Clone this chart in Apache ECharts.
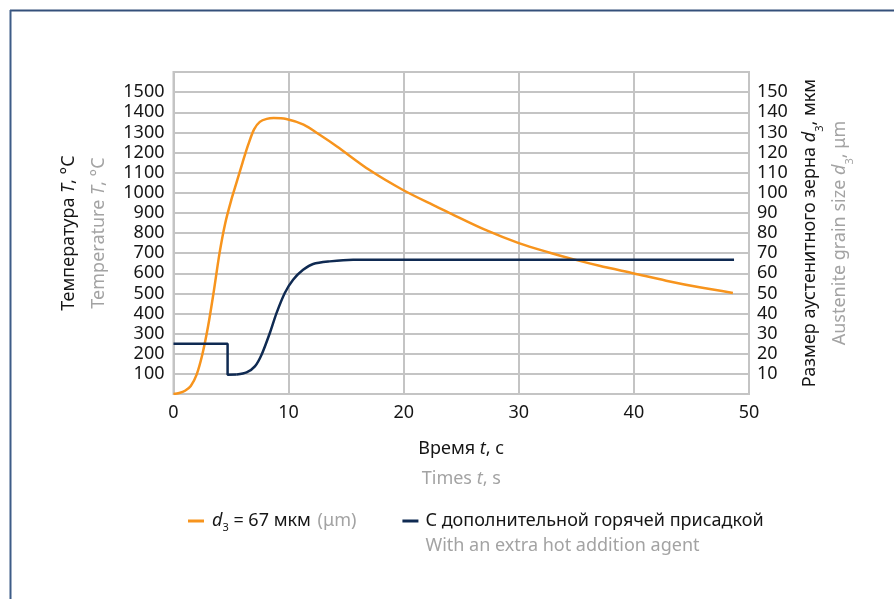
<!DOCTYPE html>
<html>
<head>
<meta charset="utf-8">
<script src="https://cdn.jsdelivr.net/npm/echarts@6/dist/echarts.min.js"></script>
<style>
html,body{margin:0;padding:0;background:#fff;}
#chart{width:894px;height:599px;}
</style>
</head>
<body>
<div id="chart"></div>
<script>
// Temperature curve (time s, temperature °C) — left axis
const tempTime  = [0, 0.5, 1.0, 1.5, 2.0, 2.5, 3.0, 3.5, 4.0, 4.5, 5.0, 5.5, 6.0, 6.5, 7.0, 7.5, 8.1, 8.7, 9.8, 11.3, 12.7, 14.2, 17.0, 19.9, 22.8, 24.0, 27.0, 30.0, 32.7, 34.7, 37.0, 40.0, 42.8, 45.7, 48.6];
const tempValue = [0, 5, 16, 40, 95, 195, 335, 510, 700, 850, 960, 1055, 1150, 1240, 1315, 1352, 1367, 1371, 1366, 1338, 1288, 1230, 1114, 1015, 932, 899, 818, 750, 702, 670, 637, 599, 563, 530, 502];
// Grain size (time s, grain size µm) — right axis: step part and growth part
const grainStepTime  = [0, 4.7, 4.7, 5.5];
const grainStepValue = [25, 25, 9.6, 9.7];
const grainTime  = [5.5, 6.35, 7.07, 7.65, 8.37, 8.95, 9.67, 10.39, 11.26, 12.13, 13.57, 15.6, 48.7];
const grainValue = [9.7, 10.7, 13.7, 19.5, 30.3, 40.2, 50.2, 56.8, 61.7, 64.6, 65.9, 66.7, 66.7];
// Axis ticks
const xTicks = [0, 10, 20, 30, 40, 50];
const leftTicks = [100, 200, 300, 400, 500, 600, 700, 800, 900, 1000, 1100, 1200, 1300, 1400, 1500];
const rightTicks = [10, 20, 30, 40, 50, 60, 70, 80, 90, 100, 110, 120, 130, 140, 150];

const FONT = 'Noto Sans';
const BLACK = '#161616';
const GRAY = '#a3a3a3';
const ORANGE = '#f7941d';
const NAVY = '#0f2a52';
const GRID = '#c4c4c4';

const zip = (a, b) => a.map((v, i) => [v, b[i]]);

const nameRich = {
  b:  {fontFamily: FONT, fontSize: 18, color: BLACK, lineHeight: 30},
  bi: {fontFamily: FONT, fontSize: 18, color: BLACK, lineHeight: 30, fontStyle: 'italic'},
  bs: {fontFamily: FONT, fontSize: 11, color: BLACK, lineHeight: 14, verticalAlign: 'bottom'},
  g:  {fontFamily: FONT, fontSize: 18, color: GRAY, lineHeight: 30},
  gi: {fontFamily: FONT, fontSize: 18, color: GRAY, lineHeight: 30, fontStyle: 'italic'},
  gs: {fontFamily: FONT, fontSize: 11, color: GRAY, lineHeight: 14, verticalAlign: 'bottom'}
};

const chart = echarts.init(document.getElementById('chart'), null, {renderer: 'canvas'});
const option = {
  backgroundColor: '#fff',
  animation: false,
  graphic: [
    {type: 'line', shape: {x1: 10, y1: 10.5, x2: 894, y2: 10.5}, style: {stroke: '#34507a', lineWidth: 2}},
    {type: 'line', shape: {x1: 10.5, y1: 10, x2: 10.5, y2: 599}, style: {stroke: '#3d5c87', lineWidth: 2}}
  ],
  grid: {left: 173.5, right: 145, top: 72, bottom: 205, show: true, borderColor: GRID, borderWidth: 2, backgroundColor: 'transparent'},
  xAxis: {
    type: 'value', min: 0, max: 50, interval: 10,
    axisLine: {show: false}, axisTick: {show: false},
    splitLine: {show: true, lineStyle: {color: GRID, width: 2}},
    axisLabel: {fontFamily: FONT, fontSize: 18, color: BLACK, margin: 10,
      formatter: v => xTicks.includes(v) ? String(v) : ''},
    name: '{b|Время }{bi|t}{b|, с}\n{g|Times }{gi|t}{g|, s}',
    nameLocation: 'middle', nameGap: 40,
    nameTextStyle: {rich: nameRich}
  },
  yAxis: [
    {
      type: 'value', min: 0, max: 1600, interval: 100, position: 'left',
      axisLine: {show: false}, axisTick: {show: false},
      splitLine: {show: true, lineStyle: {color: GRID, width: 2}},
      axisLabel: {fontFamily: FONT, fontSize: 18, color: BLACK, margin: 9,
        formatter: v => leftTicks.includes(v) ? String(v) : ''},
      name: '{b|Температура }{bi|T}{b|, °C}\n{g|Temperature }{gi|T}{g|, °C}',
      nameLocation: 'middle', nameRotate: 90, nameGap: 60,
      nameTextStyle: {rich: nameRich}
    },
    {
      type: 'value', min: 0, max: 160, interval: 10, position: 'right',
      axisLine: {show: false}, axisTick: {show: false},
      splitLine: {show: false},
      axisLabel: {fontFamily: FONT, fontSize: 18, color: BLACK, margin: 8,
        formatter: v => rightTicks.includes(v) ? String(v) : ''},
      name: '{b|Размер аустенитного зерна }{bi|d}{bs|3}{b|, мкм}\n{g|Austenite grain size }{gi|d}{gs|3}{g|, μm}',
      nameLocation: 'middle', nameRotate: 90, nameGap: 46,
      nameTextStyle: {rich: nameRich}
    }
  ],
  legend: {
    left: 188, top: 487, padding: 0, itemGap: 46,
    itemWidth: 16, itemHeight: 3, icon: 'rect',
    data: ['orange', 'navy'],
    formatter: function (name) {
      if (name === 'orange') return '{i|d}{s|3}{b| = 67 мкм }{g|(μm)}';
      return '{e|\u00a0}\n{p|С дополнительной горячей присадкой}\n{g|With an extra hot addition agent}';
    },
    textStyle: {
      rich: {
        b: {fontFamily: FONT, fontSize: 18, color: BLACK, lineHeight: 25},
        p: {fontFamily: FONT, fontSize: 18, color: BLACK, lineHeight: 25, padding: [0, 0, 0, 2]},
        e: {fontFamily: FONT, fontSize: 18, color: BLACK, lineHeight: 25},
        i: {fontFamily: FONT, fontSize: 18, color: BLACK, lineHeight: 25, fontStyle: 'italic', padding: [0, 0, 0, 3]},
        s: {fontFamily: FONT, fontSize: 11, color: BLACK, lineHeight: 10, verticalAlign: 'bottom'},
        g: {fontFamily: FONT, fontSize: 18, color: GRAY, lineHeight: 25, padding: [0, 0, 0, 2]}
      }
    }
  },
  series: [
    {
      name: 'orange', type: 'line', yAxisIndex: 0, data: zip(tempTime, tempValue),
      showSymbol: false, smooth: 0.3,
      lineStyle: {color: ORANGE, width: 2.5}, itemStyle: {color: ORANGE}, z: 3
    },
    {
      name: 'navy', type: 'line', yAxisIndex: 1, data: zip(grainStepTime, grainStepValue),
      showSymbol: false, smooth: false,
      lineStyle: {color: NAVY, width: 2.5}, itemStyle: {color: NAVY}, z: 4
    },
    {
      name: 'navy', type: 'line', yAxisIndex: 1, data: zip(grainTime, grainValue),
      showSymbol: false, smooth: 0.3,
      lineStyle: {color: NAVY, width: 2.5}, itemStyle: {color: NAVY}, z: 4
    }
  ]
};
chart.setOption(option);
</script>
</body>
</html>
